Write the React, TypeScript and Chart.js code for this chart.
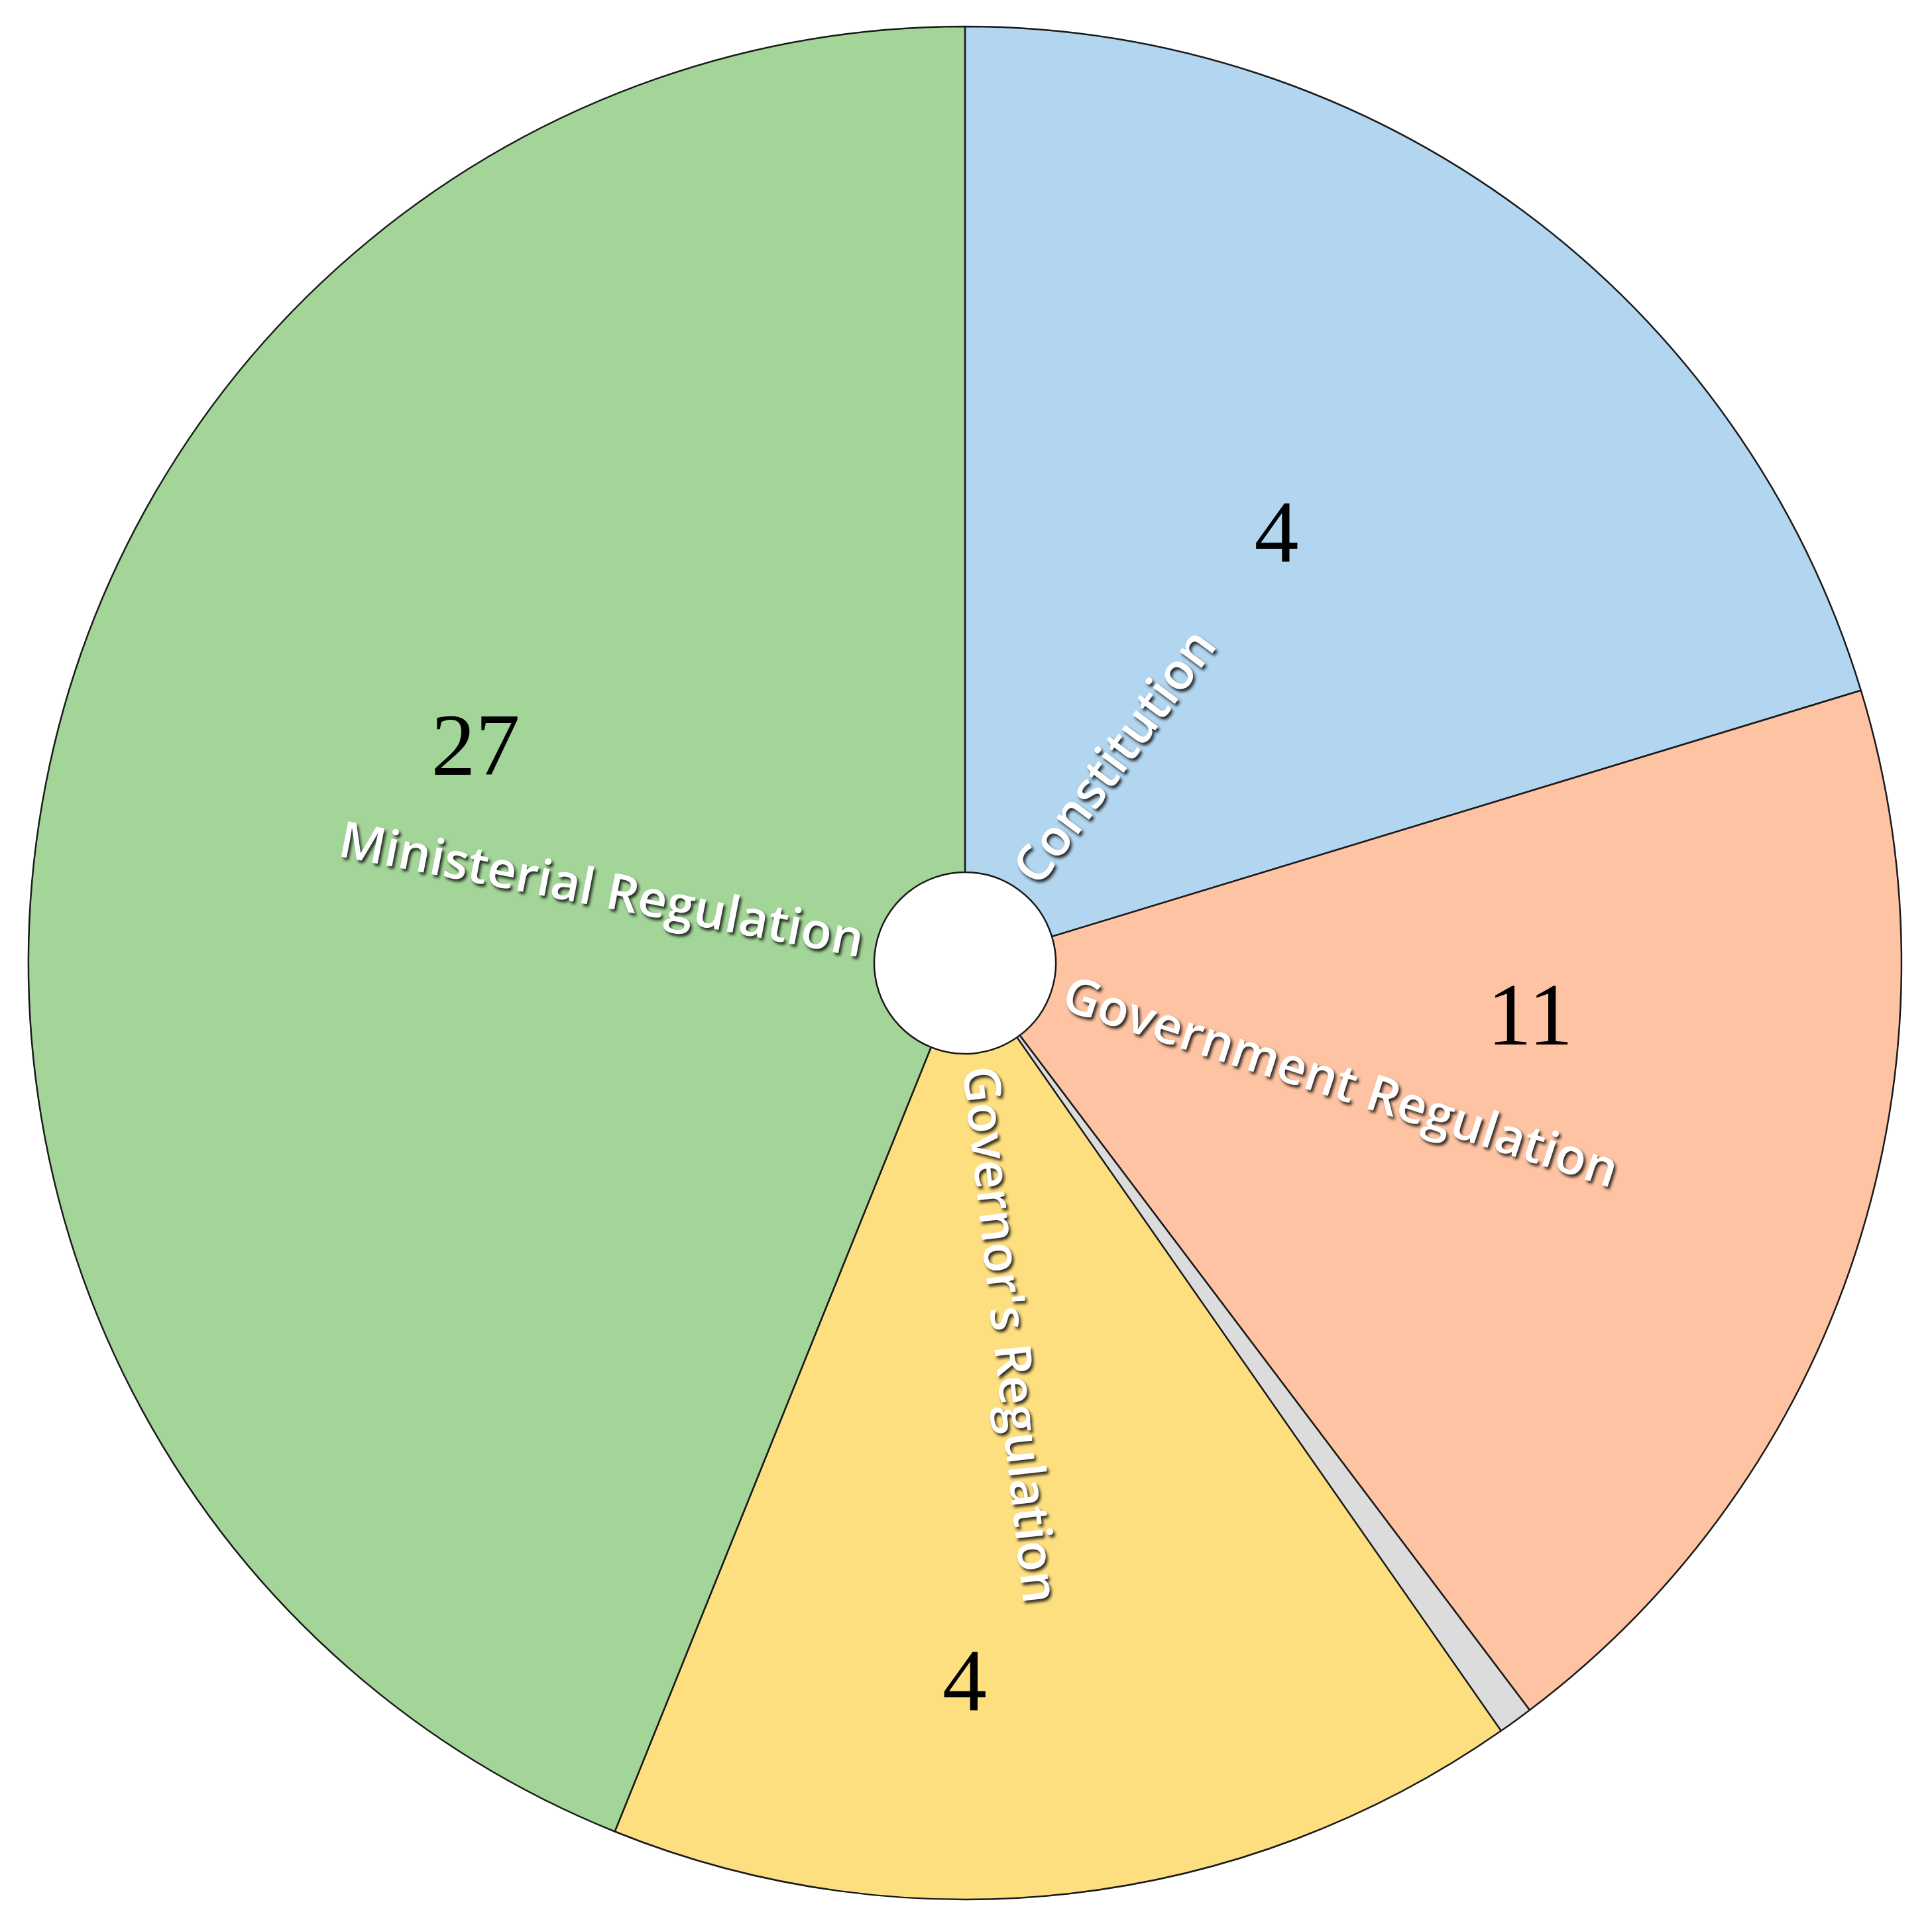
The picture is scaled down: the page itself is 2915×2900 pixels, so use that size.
import React, { useEffect, useRef } from "react";
import { Chart, registerables } from "chart.js";

Chart.register(...registerables);

// ---- data ----
const categories = [
  "Constitution",
  "Government Regulation",
  "Other",
  "Governor's Regulation",
  "Ministerial Regulation",
];
// share of the circle taken by each slice (%)
const sliceShares = [20.3, 19.4, 0.6, 15.8, 43.9];
// numbers printed inside the slices
const counts: (number | null)[] = [4, 11, null, 4, 27];
const sliceColors = ["#B2D6F0", "#FDC3A2", "#DCDCDC", "#FEDF80", "#A3D598"];

// ---- layout of the printed numbers (relative to each slice) ----
const valueAngleOffsetDeg = [-0.7, -12.7, 0, 6.5, 13];
const valueRadiusFrac = [0.568, 0.606, 0.5, 0.766, 0.572];

const CAT_FONT = 76;
const VAL_FONT = 134;

const labelPlugin = {
  id: "sliceLabels",
  afterDatasetsDraw(chart: any) {
    const ctx: CanvasRenderingContext2D = chart.ctx;
    const meta = chart.getDatasetMeta(0);
    meta.data.forEach((arc: any, i: number) => {
      if (counts[i] == null) return;
      const { x, y, startAngle, endAngle, innerRadius, outerRadius } = arc.getProps(
        ["x", "y", "startAngle", "endAngle", "innerRadius", "outerRadius"],
        true
      );
      const mid = (startAngle + endAngle) / 2;
      // category label, radial
      ctx.save();
      ctx.font = `600 ${CAT_FONT}px "Open Sans"`;
      const r0 = innerRadius + 20;
      ctx.translate(x + Math.cos(mid) * r0, y + Math.sin(mid) * r0);
      const flip = Math.cos(mid) < 0;
      ctx.rotate(flip ? mid + Math.PI : mid);
      ctx.textAlign = flip ? "right" : "left";
      ctx.textBaseline = "middle";
      ctx.shadowColor = "rgba(0,0,0,0.8)";
      ctx.shadowOffsetX = 3;
      ctx.shadowOffsetY = 4;
      ctx.shadowBlur = 4;
      ctx.fillStyle = "#ffffff";
      ctx.fillText(categories[i], 0, 0);
      ctx.restore();

      // value label
      const a = mid + (valueAngleOffsetDeg[i] * Math.PI) / 180;
      const r = valueRadiusFrac[i] * outerRadius;
      ctx.save();
      ctx.font = `${VAL_FONT}px "Liberation Serif"`;
      ctx.fillStyle = "#000000";
      ctx.textAlign = "center";
      ctx.textBaseline = "alphabetic";
      ctx.fillText(String(counts[i]), x + Math.cos(a) * r, y + Math.sin(a) * r + VAL_FONT * 0.33);
      ctx.restore();
    });
  },
};

export default function App() {
  const ref = useRef<HTMLCanvasElement>(null);
  useEffect(() => {
    if (!ref.current) return;
    const chart = new Chart(ref.current, {
      type: "doughnut",
      data: {
        labels: categories,
        datasets: [
          {
            data: sliceShares,
            backgroundColor: sliceColors,
            borderColor: "#1a1a1a",
            borderWidth: 2.5,
          },
        ],
      },
      options: {
        responsive: false,
        animation: false,
        radius: 1413,
        cutout: 140,
        layout: { padding: 0 },
        plugins: {
          legend: { display: false },
          tooltip: { enabled: false },
          title: { display: false },
        },
      } as any,
      plugins: [labelPlugin],
    });
    return () => chart.destroy();
  }, []);
  return (
    <div style={{ width: 2896, height: 2890 }}>
      <canvas ref={ref} width={2896} height={2890} style={{ display: "block" }} />
    </div>
  );
}
